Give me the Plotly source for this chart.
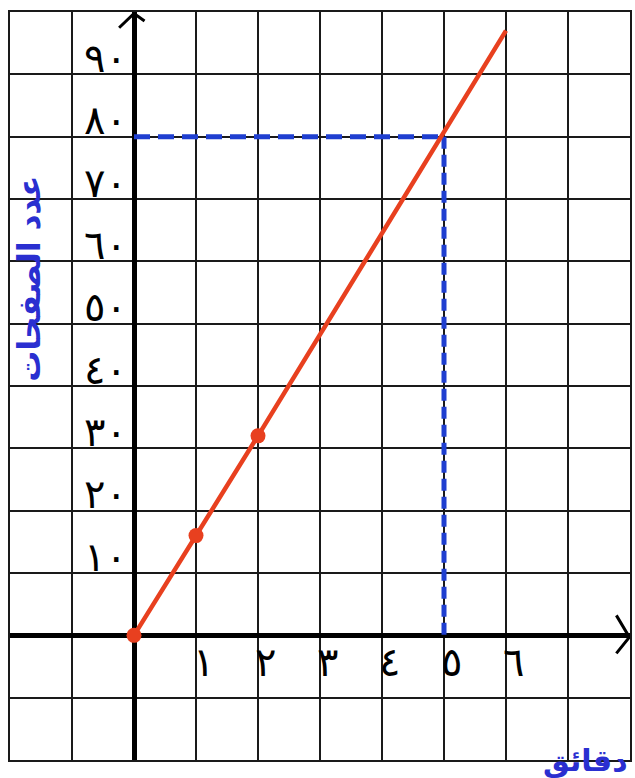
import plotly.graph_objects as go

# Data
minutes = [0, 1, 2, 6]          # points on the red line (last = line end)
pages = [0, 16, 32, 97]
marked_minutes = [0, 1, 2]
marked_pages = [0, 16, 32]
ref_minute = 5
ref_pages = 80
y_tick_vals = [10, 20, 30, 40, 50, 60, 70, 80, 90]
y_tick_text = ["١٠", "٢٠", "٣٠", "٤٠", "٥٠", "٦٠", "٧٠", "٨٠", "٩٠"]
x_tick_vals = [1, 2, 3, 4, 5, 6]
x_tick_text = ["١", "٢", "٣", "٤", "٥", "٦"]
y_title = "عدد الصفحات"
x_title = "دقائق"

X_RANGE = [-2, 8]
Y_RANGE = [-20, 100]

RED = "#e8401f"
BLUE = "#1f3fd0"
TITLE_BLUE = "#2a2fd0"

fig = go.Figure()

# dashed guide lines
fig.add_trace(go.Scatter(x=[0, ref_minute], y=[ref_pages, ref_pages], mode="lines",
                         line=dict(color=BLUE, width=5, dash="16px,8px"),
                         hoverinfo="skip", showlegend=False))
fig.add_trace(go.Scatter(x=[ref_minute, ref_minute], y=[ref_pages, 0], mode="lines",
                         line=dict(color=BLUE, width=5, dash="12px,6px"),
                         hoverinfo="skip", showlegend=False))

# red line
fig.add_trace(go.Scatter(x=minutes, y=pages, mode="lines",
                         line=dict(color=RED, width=4.5), showlegend=False))
fig.add_trace(go.Scatter(x=marked_minutes, y=marked_pages, mode="markers",
                         marker=dict(color=RED, size=15), showlegend=False))

# arrowheads on axes
dx = X_RANGE[1] - X_RANGE[0]
dy = Y_RANGE[1] - Y_RANGE[0]
fig.add_trace(go.Scatter(x=[-0.24, 0, 0.17], y=[Y_RANGE[1] - 0.021 * dy, Y_RANGE[1] - 0.002 * dy, Y_RANGE[1] - 0.012 * dy],
                         mode="lines", line=dict(color="black", width=3),
                         hoverinfo="skip", showlegend=False))
fig.add_trace(go.Scatter(x=[X_RANGE[1] - 0.022 * dx, X_RANGE[1] - 0.001 * dx, X_RANGE[1] - 0.022 * dx],
                         y=[3.2, -0.3, -2.9],
                         mode="lines", line=dict(color="black", width=3),
                         hoverinfo="skip", showlegend=False))

annotations = []
for v, t in zip(y_tick_vals, y_tick_text):
    annotations.append(dict(x=-0.08, y=v + 2.6, text=t, showarrow=False, xanchor="right",
                            yanchor="middle", font=dict(family="DejaVu Sans", size=40, color="black")))
for v, t in zip(x_tick_vals, x_tick_text):
    annotations.append(dict(x=v + 0.12, y=-4.3, text=t, showarrow=False, xanchor="center",
                            yanchor="middle", font=dict(family="DejaVu Sans", size=40, color="black")))

annotations.append(dict(xref="paper", yref="paper", x=0.03, y=0.643, text="<b>" + y_title + "</b>",
                        textangle=-90, showarrow=False, xanchor="center", yanchor="middle",
                        font=dict(family="DejaVu Sans", size=31, color=TITLE_BLUE)))
annotations.append(dict(xref="paper", yref="paper", x=1.0, y=0.0, text="<b>" + x_title + "</b>",
                        showarrow=False, xanchor="right", yanchor="middle",
                        font=dict(family="DejaVu Sans", size=30, color=TITLE_BLUE)))

fig.update_layout(
    width=635, height=778,
    margin=dict(l=10, r=3, t=12, b=18),
    paper_bgcolor="white", plot_bgcolor="white",
    annotations=annotations,
    showlegend=False,
)
fig.update_xaxes(range=X_RANGE, dtick=1, tick0=0, showgrid=True, gridcolor="#1a1a1a", gridwidth=2,
                 zeroline=True, zerolinecolor="black", zerolinewidth=5,
                 showline=True, mirror=True, linecolor="#1a1a1a", linewidth=2,
                 showticklabels=False, ticks="", fixedrange=True)
fig.update_yaxes(range=Y_RANGE, dtick=10, tick0=0, showgrid=True, gridcolor="#1a1a1a", gridwidth=2,
                 zeroline=True, zerolinecolor="black", zerolinewidth=5,
                 showline=True, mirror=True, linecolor="#1a1a1a", linewidth=2,
                 showticklabels=False, ticks="", fixedrange=True)

fig.write_html("out.html", config={"displayModeBar": False},
               post_script="document.body.style.margin='0';document.body.style.overflow='hidden';")
